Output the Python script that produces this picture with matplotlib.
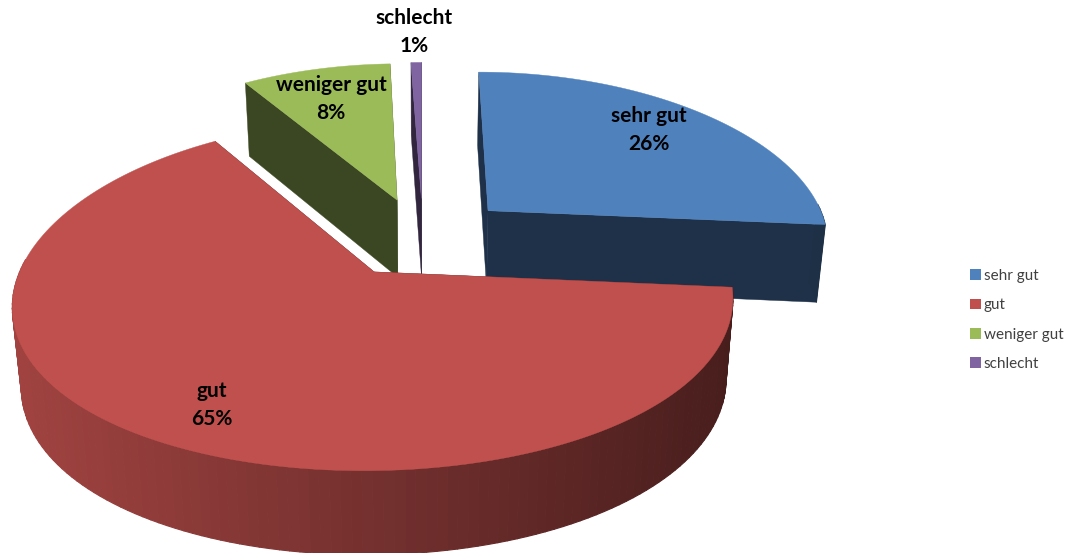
# plot.py - exploded 3D pie, drawn with polygons since matplotlib has no 3D pie

import numpy as np
import matplotlib.pyplot as plt
from matplotlib.collections import PolyCollection
from matplotlib.colors import to_rgb
from matplotlib.patches import Patch, Polygon

plt.rcParams["font.family"] = ["Lato", "DejaVu Sans"]

# --------- DATA ----------
categories = ["sehr gut", "gut", "weniger gut", "schlecht"]
values = [26.4, 64.6, 8.4, 0.6]
colors = ["#4F81BD", "#C0504D", "#9BBB59", "#8064A2"]

# --------- PROJECTION ----------
CX, CY = 423, 237
RX, RY = 342, 163
PERSP_X, PERSP_Y, PERSP_Z = 0.17, 0.13, 0.06
DEPTH = 78
SHRINK = 0.978
EXPLODE_X, EXPLODE_Y = 0.265, 0.244


def project(u, v, z=0.0):
    # u to the right, v towards the viewer, z from top (0) to bottom (1)
    u, v = np.asarray(u), np.asarray(v)
    x = RX * u / (1 - PERSP_X * v) * (1 - (1 - SHRINK) * z)
    y = RY * v / (1 - PERSP_Y * v) + DEPTH * z / (1 - PERSP_Z * v)
    return np.column_stack([CX + x, CY + y])


def wall_shade(x):
    # side walls go darker from left to right
    f = 0.84 + (0.37 - 0.84) * (x - 11) / (735 - 11)
    return np.clip(f, 0.37, 0.84)


def scaled(color, f):
    return tuple(np.array(to_rgb(color)) * f)


fig = plt.figure(figsize=(10.72, 5.53), dpi=100)
ax = fig.add_axes([0, 0, 1, 1])
ax.set_xlim(0, 1072)
ax.set_ylim(553, 0)
ax.axis("off")

# --------- SLICES ----------
fractions = np.array(values) / sum(values)
edges = np.concatenate([[0], np.cumsum(fractions)]) * 2 * np.pi

# back to front: schlecht, weniger gut, sehr gut, gut
for i in [3, 2, 0, 1]:
    t0, t1 = edges[i], edges[i + 1]
    mid = (t0 + t1) / 2
    ou, ov = EXPLODE_X * np.sin(mid), -EXPLODE_Y * np.cos(mid)

    t = np.linspace(t0, t1, max(int((t1 - t0) * 40), 4))
    u = ou + np.sin(t)
    v = ov - np.cos(t)

    top = project(u, v, 0)
    bottom = project(u, v, 1)
    apex_top = project([ou], [ov], 0)
    apex_bottom = project([ou], [ov], 1)

    # cut faces
    dark = scaled(colors[i], 0.38)
    for k in [0, -1]:
        face = np.vstack([apex_top, top[[k]], bottom[[k]], apex_bottom])
        ax.add_patch(Polygon(face, closed=True, facecolor=dark, edgecolor=dark, linewidth=0.3, zorder=1))

    # outer wall, only the part that faces the viewer, one quad per step
    quads = [np.vstack([top[j], top[j + 1], bottom[j + 1], bottom[j]])
             for j in range(len(t) - 1) if np.cos(t[j]) < 0.05]
    shades = [scaled(colors[i], wall_shade(q[:, 0].mean())) for q in quads]
    if quads:
        ax.add_collection(PolyCollection(quads, facecolors=shades, edgecolors=shades, linewidths=0.8, zorder=1))

    # top face
    ax.add_patch(Polygon(np.vstack([apex_top, top]), closed=True, facecolor=colors[i], edgecolor=colors[i],
                         linewidth=0.3, zorder=1))

# --------- LABELS ----------
label_pos = [(649, 130), (212, 405), (331, 99), (414, 32)]
for name, val, (lx, ly) in zip(categories, values, label_pos):
    ax.text(lx, ly, f"{name}\n{val:.0f}%", ha="center", va="center", fontsize=15, fontweight="bold",
            color="black", linespacing=1.56, zorder=5)

# --------- LEGEND ----------
handles = [Patch(facecolor=c, edgecolor="none") for c in colors]
ax.legend(handles, categories, loc="upper left", bbox_to_anchor=(964 / 1072, 1 - 263 / 553), frameon=False,
          fontsize=11, labelcolor="#404040", handlelength=0.7, handleheight=0.7, handletextpad=0.2,
          labelspacing=1.0, borderaxespad=0, borderpad=0.4)

plt.savefig("out.png", dpi=100)
